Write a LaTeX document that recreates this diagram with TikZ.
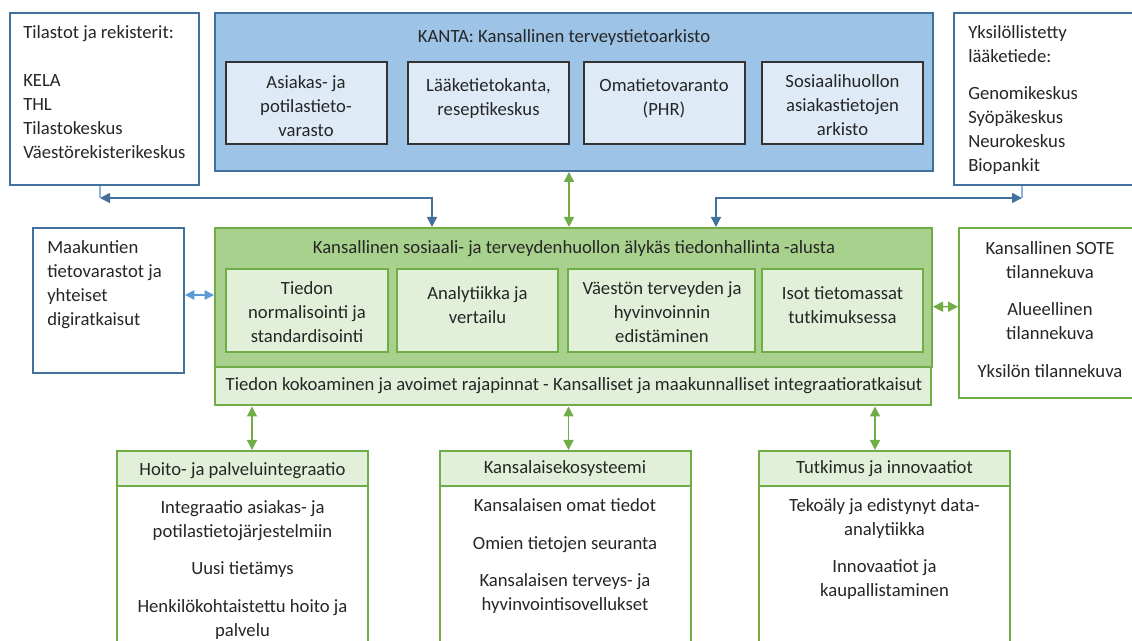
\documentclass[tikz,border=0pt]{standalone}
\usepackage{fontspec}
\setmainfont{Carlito}
\usepackage{xcolor}
\usetikzlibrary{arrows.meta, positioning, fit, calc}

\definecolor{kantafill}{HTML}{9DC3E6}
\definecolor{kantaline}{HTML}{41719C}
\definecolor{kantacellfill}{HTML}{DEEBF7}
\definecolor{gline}{HTML}{70AD47}
\definecolor{gfill}{HTML}{A9D18E}
\definecolor{glight}{HTML}{E2F0D9}
\definecolor{lblue}{HTML}{5B9BD5}
\definecolor{stubblue}{HTML}{8FB4DE}
\definecolor{txt}{HTML}{262626}

\tikzset{
  frame/.style={inner sep=0pt, line width=1.5pt},
  kantabg/.style={frame, draw=kantaline, fill=kantafill},
  kantacell/.style={inner sep=0pt, draw=black!80, line width=0.8pt, fill=kantacellfill},
  regbox/.style={frame, draw=kantaline, fill=white},
  alustabg/.style={frame, draw=gline, fill=gfill},
  alustacell/.style={frame, draw=gline, fill=glight},
  sotebox/.style={frame, draw=gline, fill=white},
  txtc/.style={inner sep=0pt, text=txt, align=center, anchor=north},
  txtl/.style={txtc, align=left, anchor=north west},
  txtb/.style={inner sep=0pt, text=txt, anchor=base},
  barrow/.style={kantaline, line width=1.1pt, >={Triangle[length=7.5pt,width=7.5pt]}},
  garrow/.style={gline, line width=1.1pt, >={Triangle[length=7.5pt,width=7.5pt]}, <->},
  lbarrow/.style={lblue, line width=1.1pt, >={Triangle[length=7pt,width=7pt]}, <->},
  stub/.style={stubblue, line width=0.9pt}
}

\begin{document}
\begin{tikzpicture}[x=0.75pt, y=-0.75pt, every node/.style={font=\fontsize{14}{18}\selectfont}]
  \useasboundingbox (0,0) rectangle (1132,641);
  \clip (0,0) rectangle (1132,641);
  % ---------- TOP ROW ----------
  \node[regbox, fit={(10,13) (199,185)}] (tilastot) {};
  \node[txtl] (tilastotxt) at (23,25.5) {Tilastot ja rekisterit:\\[18pt]KELA\\THL\\Tilastokeskus\\Väestörekisterikeskus};

  \node[kantabg, fit={(215,13) (933,171)}] (kanta) {};
  \node[txtb] (kantatxt) at (564,42.7) {KANTA: Kansallinen terveystietoarkisto};
  \node[kantacell, fit={(226,62) (387,144)}] (k1) {};
  \node[kantacell, fit={(408,62) (569,144)}] (k2) {};
  \node[kantacell, fit={(584,62) (745,144)}] (k3) {};
  \node[kantacell, fit={(762,62) (923,144)}] (k4) {};
  \node[txtc] (k1txt) at (306,75.5) {Asiakas- ja\\potilastieto-\\varasto};
  \node[txtc] (k2txt) at (488.5,78) {Lääketietokanta,\\reseptikeskus};
  \node[txtc] (k3txt) at (664,78.5) {Omatietovaranto\\(PHR)};
  \node[txtc] (k4txt) at (842.5,74.5) {Sosiaalihuollon\\asiakastietojen\\arkisto};

  \node[regbox, fit={(954,13) (1140,185)}] (yksilo) {};
  \node[txtl] (yksilotxt) at (968,25.5) {Yksilöllistetty\\lääketiede:\\[9.5pt]Genomikeskus\\Syöpäkeskus\\Neurokeskus\\Biopankit};

  % ---------- MIDDLE ROW ----------
  \node[regbox, fit={(33,228) (184,373)}] (maakunnat) {};
  \node[txtl] (maakunnattxt) at (47,240.5) {Maakuntien\\tietovarastot ja\\yhteiset\\digiratkaisut};

  \node[alustabg, fit={(215,228) (932,367)}] (alusta) {};
  \node[txtb] (alustatxt) at (574,253.3) {Kansallinen sosiaali- ja terveydenhuollon älykäs tiedonhallinta -alusta};
  \node[alustacell, fit={(226,269.5) (388,352.5)}] (g1) {};
  \node[alustacell, fit={(397,269.5) (558,352.5)}] (g2) {};
  \node[alustacell, fit={(568,269.5) (755,352.5)}] (g3) {};
  \node[alustacell, fit={(762,269.5) (923,352.5)}] (g4) {};
  \node[txtc] (g1txt) at (307,281.5) {Tiedon\\normalisointi ja\\standardisointi};
  \node[txtc] (g2txt) at (477.5,286.5) {Analytiikka ja\\vertailu};
  \node[txtc] (g3txt) at (662,281.5) {Väestön terveyden ja\\hyvinvoinnin\\edistäminen};
  \node[txtc] (g4txt) at (842.5,286.5) {Isot tietomassat\\tutkimuksessa};

  \node[alustacell, fit={(215,367) (931,405.5)}] (bar) {};
  \node[txtb] (bartxt) at (574,390.7) {Tiedon kokoaminen ja avoimet rajapinnat - Kansalliset ja maakunnalliset integraatioratkaisut};

  \node[sotebox, fit={(959,228) (1140,398)}] (sote) {};
  \node[txtc] (sotetxt) at (1050,241.2) {Kansallinen SOTE\\tilannekuva\\[10pt]Alueellinen\\tilannekuva\\[10pt]Yksilön tilannekuva};

  % ---------- BOTTOM ROW ----------
  \node[sotebox, fit={(117,486.5) (368,660)}] (hoitobody) {};
  \node[alustacell, fit={(117,451) (368,486.5)}] (hoito) {};
  \node[txtb] (hoitotxt) at (242.5,475) {Hoito- ja palveluintegraatio};
  \node[txtc] (hoitobodytxt) at (242.5,500.2) {Integraatio asiakas- ja\\potilastietojärjestelmiin\\[10pt]Uusi tietämys\\[10pt]Henkilökohtaistettu hoito ja\\palvelu};

  \node[sotebox, fit={(439.5,486) (690.5,660)}] (kansalaisbody) {};
  \node[alustacell, fit={(439.5,451) (690.5,486)}] (kansalais) {};
  \node[txtb] (kansalaistxt) at (565,474) {Kansalaisekosysteemi};
  \node[txtc] (kansalaisbodytxt) at (565,498.5) {Kansalaisen omat tiedot\\[10pt]Omien tietojen seuranta\\[10pt]Kansalaisen terveys- ja\\hyvinvointisovellukset};

  \node[sotebox, fit={(759,486) (1010,660)}] (tutkimusbody) {};
  \node[alustacell, fit={(759,451) (1010,486)}] (tutkimus) {};
  \node[txtb] (tutkimustxt) at (884.5,473.3) {Tutkimus ja innovaatiot};
  \node[txtc] (tutkimusbodytxt) at (884.5,497.8) {Tekoäly ja edistynyt data-\\analytiikka\\[10pt]Innovaatiot ja\\kaupallistaminen};

  % ---------- CONNECTORS ----------
  \draw[garrow] ($(kanta.south)+(-5,0)$) -- ($(alusta.north)+(-4.5,0)$);
  \draw[barrow, <->] ($(alusta.north)+(-141.5,0)$) |- ($(tilastot.south)+(-4.5,12)$);
  \draw[stub] ($(tilastot.south)+(-4.5,12)$) -- ($(tilastot.south)+(-4.5,0)$);
  \draw[barrow, <->] ($(alusta.north)+(142.5,0)$) |- ($(yksilo.south)+(-25,12)$);
  \draw[stub] ($(yksilo.south)+(-25,12)$) -- ($(yksilo.south)+(-25,0)$);
  \draw[lbarrow] ($(maakunnat.east)+(0,-5.5)$) -- ($(alusta.west)+(0,-2.5)$);
  \draw[garrow] ($(alusta.east)+(0,9.2)$) -- ($(sote.west)+(0,-6.3)$);
  \draw[garrow] ($(bar.south)+(-321,0)$) -- ($(hoito.north)+(9.5,0)$);
  \draw[garrow] ($(bar.south)+(-4.5,0)$) -- ($(kansalais.north)+(3.5,0)$);
  \draw[garrow] ($(bar.south)+(302,0)$) -- ($(tutkimus.north)+(-9.5,0)$);
\end{tikzpicture}
\end{document}
